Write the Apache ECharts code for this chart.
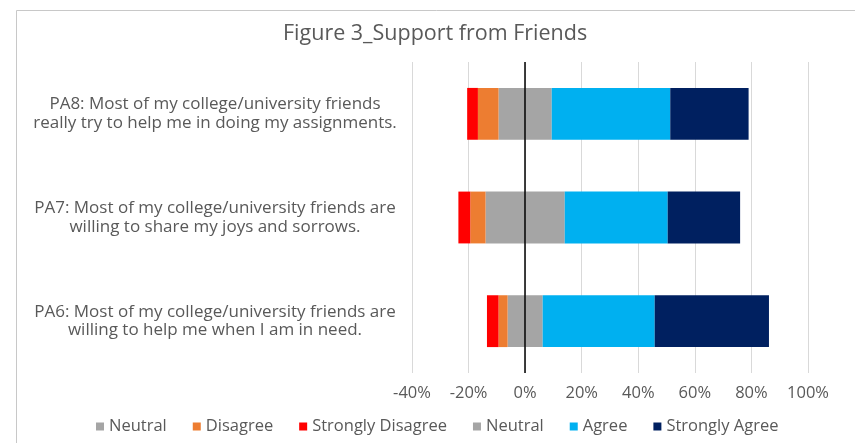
<!DOCTYPE html>
<html>
<head>
<meta charset="utf-8">
<script src="https://cdn.jsdelivr.net/npm/echarts@6/dist/echarts.min.js"></script>
<style>html,body{margin:0;padding:0;background:#fff;}#c{width:855px;height:443px;}</style>
</head>
<body>
<div id="c"></div>
<script>
// Categories top to bottom
var categories = [
  'PA8: Most of my college/university friends\nreally try to help me in doing my assignments.',
  'PA7: Most of my college/university friends are\nwilling to share my joys and sorrows.',
  'PA6: Most of my college/university friends are\nwilling to help me when I am in need.'
];
var neutralNeg = [-9.4, -14.0, -6.2];
var disagree = [-7.3, -5.4, -3.2];
var stronglyDisagree = [-3.8, -4.2, -4.1];
var neutralPos = [9.4, 14.0, 6.2];
var agree = [41.9, 36.4, 39.6];
var stronglyAgree = [27.7, 25.6, 40.4];
var xTicks = { min: -40, max: 100, interval: 20 };

var FONT = 'Open Sans';
var TXT = '#595959';

function bar(name, data, color, extra) {
  var s = {
    name: name, type: 'bar', stack: 'total', data: data,
    barCategoryGap: '50%',
    itemStyle: { color: color },
    silent: true
  };
  if (extra) Object.assign(s, extra);
  return s;
}

var chart = echarts.init(document.getElementById('c'), null, { renderer: 'canvas' });
chart.setOption({
  animation: false,
  backgroundColor: '#fff',
  title: {
    text: 'Figure 3_Support from Friends',
    left: 278,
    top: 18,
    padding: 5,
    textStyle: { fontFamily: FONT, fontSize: 21.5, fontWeight: 'normal', color: TXT }
  },
  graphic: [{
    type: 'rect', silent: true,
    shape: { x: 16.5, y: 10.5, width: 900, height: 500 },
    style: { fill: 'none', stroke: '#c8c8c8', lineWidth: 1 }
  }],
  legend: {
    left: 91,
    top: 413,
    itemWidth: 8,
    itemHeight: 8,
    itemGap: 26,
    icon: 'rect',
    data: ['Neutral (neg)', 'Disagree', 'Strongly Disagree', 'Neutral (pos)', 'Agree', 'Strongly Agree'],
    formatter: function (n) { return n.replace(/ \((neg|pos)\)$/, ''); },
    textStyle: { fontFamily: FONT, fontSize: 16.5, color: TXT },
    selectedMode: false
  },
  grid: { left: 412, right: 47, top: 62, bottom: 70, containLabel: false },
  xAxis: {
    type: 'value',
    min: xTicks.min, max: xTicks.max, interval: xTicks.interval,
    axisLine: { show: false },
    axisTick: { show: false },
    splitLine: { show: true, lineStyle: { color: '#d9d9d9', width: 1 } },
    axisLabel: { formatter: '{value}%', fontFamily: FONT, fontSize: 16.5, color: TXT, margin: 12 }
  },
  yAxis: {
    type: 'category',
    inverse: true,
    data: categories,
    axisLine: { show: false },
    axisTick: { show: false },
    axisLabel: {
      align: 'center', margin: 197,
      fontFamily: FONT, fontSize: 17, lineHeight: 18.5, color: TXT
    }
  },
  series: [
    bar('Neutral (neg)', neutralNeg, '#a5a5a5', {
      markLine: {
        silent: true, symbol: ['none', 'none'],
        label: { show: false },
        lineStyle: { color: '#000', width: 1.5, type: 'solid' },
        data: [{ xAxis: 0 }]
      }
    }),
    bar('Disagree', disagree, '#ed7d31'),
    bar('Strongly Disagree', stronglyDisagree, '#ff0000'),
    bar('Neutral (pos)', neutralPos, '#a5a5a5'),
    bar('Agree', agree, '#00b0f0'),
    bar('Strongly Agree', stronglyAgree, '#002060')
  ]
});
</script>
</body>
</html>
